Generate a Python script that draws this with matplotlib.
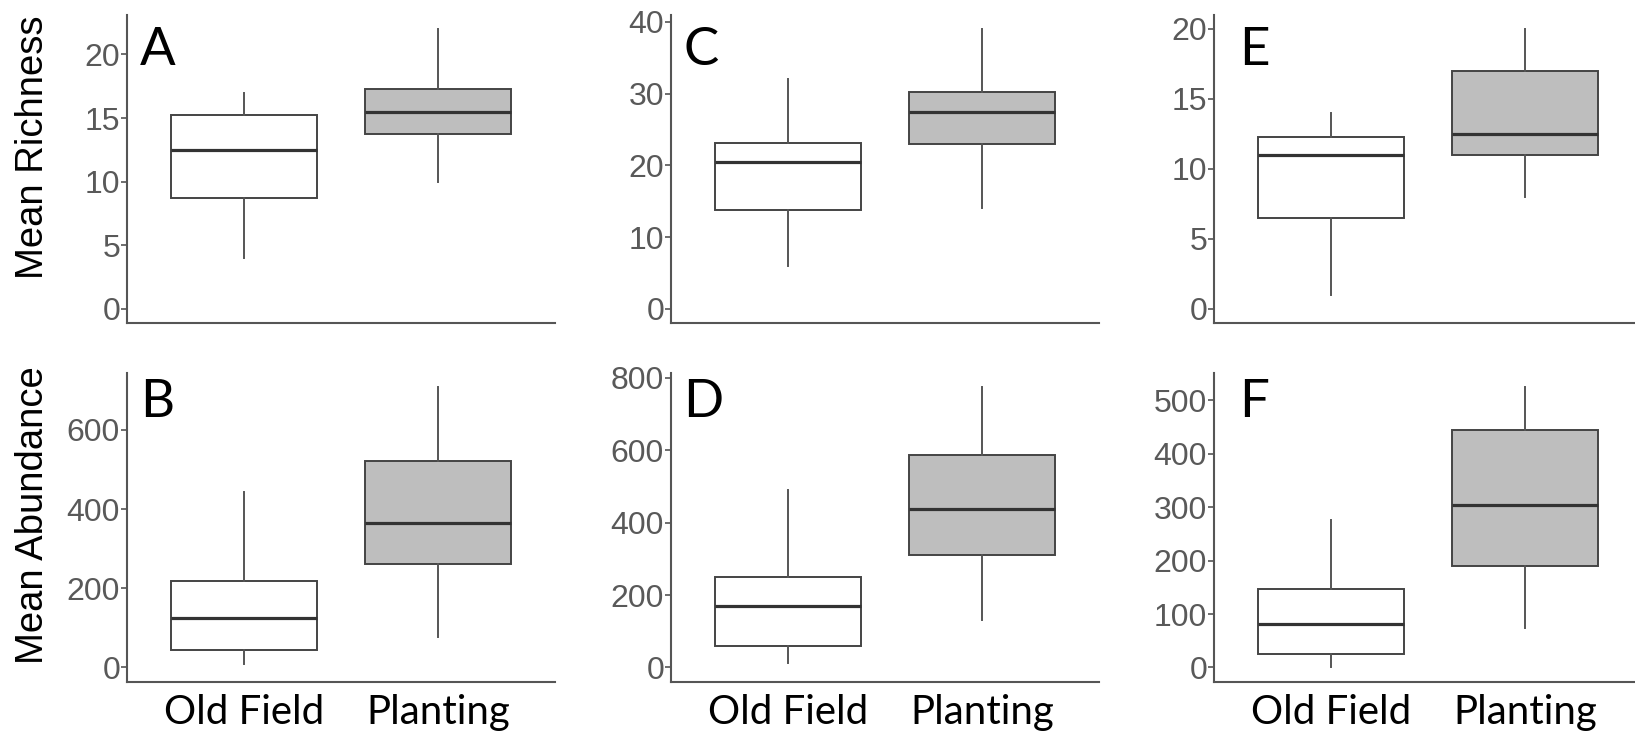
import matplotlib
matplotlib.use('Agg')
import matplotlib.pyplot as plt

plt.rcParams['font.family'] = ['Liberation Sans', 'DejaVu Sans']

groups = ['Old Field', 'Planting']

# box stats per panel: whisker low, Q1, median, Q3, whisker high
a_old = [4, 8.76, 12.5, 15.24, 17]
a_plant = [10, 13.78, 15.5, 17.25, 22]
b_old = [10, 45, 125, 218, 444]
b_plant = [78, 260, 365, 521, 708]
c_old = [6, 13.8, 20.5, 23.1, 32]
c_plant = [14, 23.0, 27.4, 30.2, 39]
d_old = [12, 58, 171, 250, 490]
d_plant = [130, 310, 437, 586, 775]
e_old = [1, 6.5, 11, 12.3, 14]
e_plant = [8, 11, 12.5, 17, 20]
f_old = [1, 25, 81.5, 147, 277]
f_plant = [74, 190, 305, 444, 525]

a_ticks = [0, 5, 10, 15, 20]
b_ticks = [0, 200, 400, 600]
c_ticks = [0, 10, 20, 30, 40]
d_ticks = [0, 200, 400, 600, 800]
e_ticks = [0, 5, 10, 15, 20]
f_ticks = [0, 100, 200, 300, 400, 500]

W, H = 1635, 732
fig = plt.figure(figsize=(W / 100, H / 100), dpi=100)

fills = ['white', '#bebebe']
line_col = '#555555'

def panel(left, top, bottom, letter, letter_dx, letter_dy, old, plant, ticks, bottom_row):
    ax = fig.add_axes([left / W, 1 - bottom / H, 428 / W, (bottom - top) / H])
    stats = []
    for vals, lab in zip([old, plant], groups):
        lo, q1, med, q3, hi = vals
        stats.append(dict(whislo=lo, q1=q1, med=med, q3=q3, whishi=hi,
                          label=lab, fliers=[]))
    bp = ax.bxp(stats, positions=[1, 2], widths=0.75, showcaps=False,
                patch_artist=True,
                boxprops=dict(edgecolor='#444444', linewidth=1.4),
                medianprops=dict(color='#333333', linewidth=2.3),
                whiskerprops=dict(color='#555555', linewidth=1.4))
    for patch, fc in zip(bp['boxes'], fills):
        patch.set_facecolor(fc)
    ax.set_xlim(0.4, 2.6)
    ymax = max(old[4], plant[4])
    ax.set_ylim(-0.05 * ymax, 1.05 * ymax)
    ax.set_yticks(ticks)
    ax.set_yticklabels([str(t) for t in ticks])
    for s in ['top', 'right']:
        ax.spines[s].set_visible(False)
    for s in ['left', 'bottom']:
        ax.spines[s].set_color(line_col)
        ax.spines[s].set_linewidth(1.5)
    ax.tick_params(axis='y', length=4, width=1.2, color=line_col,
                   labelsize=23, labelcolor='#595959', pad=1)
    ax.tick_params(axis='x', length=0, pad=9)
    ax.set_xticks([1, 2])
    if bottom_row:
        ax.set_xticklabels(groups, fontfamily='Lato', fontsize=29, color='black')
    else:
        ax.set_xticklabels([])
    h = bottom - top
    ax.text(letter_dx / 428, 1 - letter_dy / h, letter, transform=ax.transAxes,
            fontfamily='Lato', fontsize=38, color='black',
            ha='left', va='baseline')
    return ax

panel(127, 15, 323, 'A', 13, 50, a_old, a_plant, a_ticks, False)
panel(127, 373, 681.5, 'B', 13, 44, b_old, b_plant, b_ticks, True)
panel(671, 15, 323, 'C', 12, 50, c_old, c_plant, c_ticks, False)
panel(671, 373, 681.5, 'D', 12, 44, d_old, d_plant, d_ticks, True)
panel(1214, 15, 323, 'E', 25, 50, e_old, e_plant, e_ticks, False)
panel(1214, 373, 681.5, 'F', 25, 44, f_old, f_plant, f_ticks, True)

fig.text(33 / W, 1 - 147 / H, 'Mean Richness', rotation=90, fontsize=27.5,
         color='black', ha='center', va='center')
fig.text(33 / W, 1 - 515 / H, 'Mean Abundance', rotation=90, fontsize=27.5,
         color='black', ha='center', va='center')

fig.savefig('out.png', dpi=100)
